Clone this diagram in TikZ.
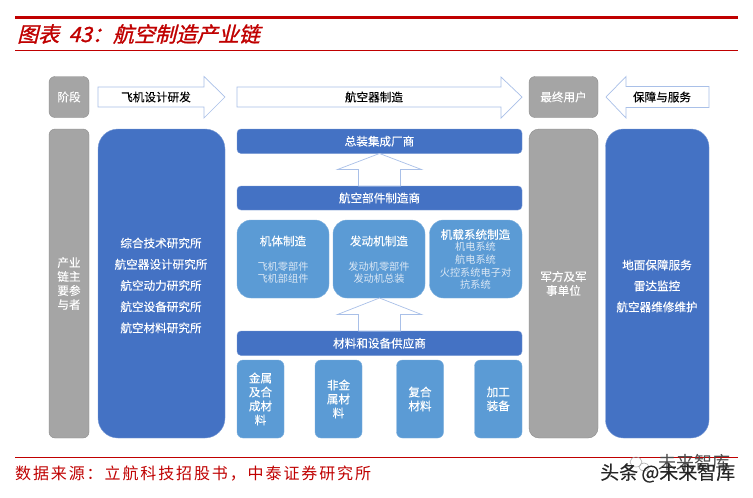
\documentclass[tikz,border=0pt]{standalone}
\usepackage{fontspec}
\usetikzlibrary{calc}
\setmainfont[FakeBold=0.25]{Noto Sans CJK SC}
\newfontfamily\titlefont[FakeSlant=0.25,FakeBold=1.2]{Noto Sans CJK SC}
\newfontfamily\srcfont[LetterSpace=11.8]{Noto Sans CJK SC}
\newfontfamily\subfont{Noto Sans CJK SC}
\definecolor{bigblue}{HTML}{4472C4}
\definecolor{midblue}{HTML}{5B9BD5}
\definecolor{stagegrey}{HTML}{A5A5A5}
\definecolor{redline}{HTML}{C00000}
\definecolor{arrowedge}{HTML}{A9C0E8}
\definecolor{subtext}{HTML}{DCE8F5}
\tikzset{
  fbox/.style={inner sep=0pt,outer sep=0pt,align=center,text=white,font=\fontsize{11.6}{14}\selectfont},
  greybox/.style={fbox,fill=stagegrey,draw=stagegrey!85!black,line width=.4pt},
  bluebox/.style={fbox,fill=bigblue,draw=bigblue!70!white,line width=.4pt},
  midbox/.style={fbox,fill=midblue,draw=midblue!80!white,line width=.4pt},
  blockarrow/.style={draw=arrowedge,fill=white,line width=.7pt,line join=miter},
  lab/.style={inner sep=0pt,font=\fontsize{11.6}{14}\selectfont,align=center},
  wlab/.style={lab,text=white},
  sublab/.style={inner sep=0pt,align=center,text=subtext,font=\subfont\fontsize{10.2}{12.6}\selectfont},
}
% name, x1, y1, x2, y2, radius, style, text
\newcommand{\bxnode}[8]{%
  \pgfmathsetlengthmacro{\bw}{(#4)-(#2)}%
  \pgfmathsetlengthmacro{\bh}{(#5)-(#3)}%
  \pgfmathsetmacro{\bx}{((#2)+(#4))/2}%
  \pgfmathsetmacro{\by}{((#3)+(#5))/2}%
  \node[#7,rounded corners=#6pt,minimum width=\bw,minimum height=\bh,text width=\bw] (#1) at (\bx,\by) {#8};%
}
\begin{document}
\begin{tikzpicture}[x=1pt,y=-1pt]
\useasboundingbox (0,0) rectangle (753,498);
\fill[white] (0,0) rectangle (753,498);
% header
\fill[redline] (15,16) rectangle (738,19);
\fill[redline] (15,50) rectangle (738,51);
\node[anchor=west,inner sep=0pt,text=redline,font=\titlefont\fontsize{21}{23}\selectfont] (title) at (17,34) {图表\ \ 43\char"FF1A 航空制造产业链};
% stage row
\bxnode{stage}{49}{76.5}{89}{117.5}{6}{greybox}{阶段}
\bxnode{user}{529}{76.5}{598}{117.5}{6}{greybox}{最终用户}
\draw[blockarrow] (98,87) -- (204,87) -- (204,76.5) -- (225,97) -- (204,118) -- (204,107) -- (98,107) -- cycle;
\node[lab] (design) at (156,97) {飞机设计研发};
\draw[blockarrow] (237,87) -- (501,87) -- (501,77) -- (522,97) -- (501,118) -- (501,107) -- (237,107) -- cycle;
\node[lab] (manuf) at (374,97) {航空器制造};
\draw[blockarrow] (709,86.5) -- (626,86.5) -- (626,76.5) -- (606,97) -- (626,118) -- (626,107.5) -- (709,107.5) -- cycle;
\node[lab] (service) at (662,97) {保障与服务};
% columns
\bxnode{part}{49}{129}{89}{438}{6}{greybox}{产业\\链主\\要参\\与者}
\bxnode{inst}{98}{129}{225}{438}{20}{bluebox}{}
\node[wlab,font=\fontsize{11.6}{21.2}\selectfont] (instl) at (161,285.5) {综合技术研究所\\航空器设计研究所\\航空动力研究所\\航空设备研究所\\航空材料研究所};
\bxnode{army}{529}{129}{598}{438}{10}{greybox}{军方及军\\事单位}
\bxnode{supp}{605.5}{129}{709}{438}{18}{bluebox}{}
\node[wlab,font=\fontsize{11.6}{21}\selectfont] (suppl) at (657,286) {地面保障服务\\雷达监控\\航空器维修维护};
% centre bars
\bxnode{final}{237}{129}{522}{153.5}{4}{bluebox}{总装集成厂商}
\bxnode{comp}{237}{186}{522}{210}{4}{bluebox}{航空部件制造商}
\bxnode{body}{237}{220}{329}{298}{14}{midbox}{}
\bxnode{engine}{333}{220}{425}{298}{14}{midbox}{}
\bxnode{avion}{429.5}{220}{522}{298}{14}{midbox}{}
\node[wlab] (bodyt) at (283,241) {机体制造};
\node[sublab] (bodys) at (283,272.5) {飞机零部件\\飞机部组件};
\node[wlab] (enginet) at (379,241) {发动机制造};
\node[sublab] (engines) at (379,272.5) {发动机零部件\\发动机总装};
\node[wlab] (aviont) at (475.5,234.5) {机载系统制造};
\node[sublab] (avions) at (475.5,266) {机电系统\\航电系统\\火控系统电子对\\抗系统};
\bxnode{mat}{237}{331}{522}{355.5}{4}{bluebox}{材料和设备供应商}
\bxnode{metal}{237}{360}{284}{438}{6}{midbox}{金属\\及合\\成材\\料}
\bxnode{nonmetal}{315}{360}{362}{438}{6}{midbox}{非金\\属材\\料}
\bxnode{composite}{396.5}{360}{443.5}{438}{6}{midbox}{复合\\材料}
\bxnode{equip}{474.5}{360}{522}{438}{6}{midbox}{加工\\装备}
% up arrows
\coordinate (t1) at (379.5,153.5);
\coordinate (b1) at (379.5,186);
\draw[blockarrow] (t1) -- ($(t1)+(42,16)$) -- ($(t1)+(21,16)$) -- ($(b1)+(21,0)$) -- ($(b1)+(-21,0)$) -- ($(t1)+(-21,16)$) -- ($(t1)+(-42,16)$) -- cycle;
\coordinate (t2) at (379.5,298);
\coordinate (b2) at (379.5,331);
\draw[blockarrow] (t2) -- ($(t2)+(42,16.5)$) -- ($(t2)+(21,16.5)$) -- ($(b2)+(21,0)$) -- ($(b2)+(-21,0)$) -- ($(t2)+(-21,16.5)$) -- ($(t2)+(-42,16.5)$) -- cycle;
% footer
\fill[redline] (15,456.5) rectangle (738,457.5);
\node[anchor=west,inner sep=0pt,text=redline,font=\srcfont\fontsize{16}{18}\selectfont] (source) at (15,473.5) {数据来源\char"FF1A 立航科技招股书\char"FF0C 中泰证券研究所};
% watermark
\node[anchor=west,inner sep=0pt,text=black!70,font=\subfont\fontsize{18}{20}\selectfont] (wm2) at (658,463) {未来智库};
\draw[black!35,line width=.5pt] (636,462) ellipse (6 and 5);
\draw[black!35,line width=.5pt] (644,467) ellipse (5 and 4);
\node[anchor=west,inner sep=0pt,text=black!85,font=\fontsize{19}{21}\selectfont] (wm1) at (600,473) {头条\,@未来智库};
\end{tikzpicture}
\end{document}
